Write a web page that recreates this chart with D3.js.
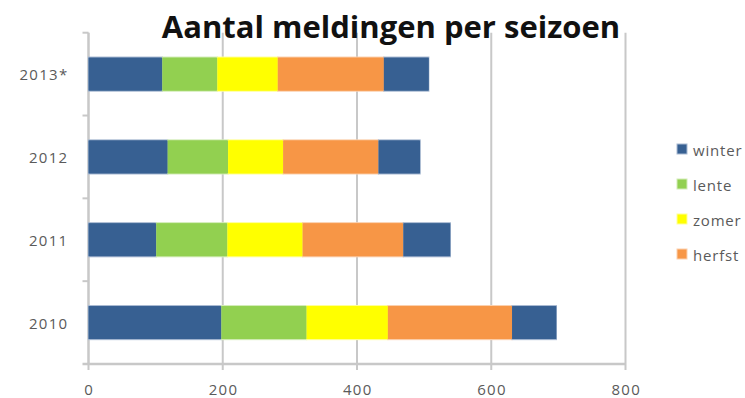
<!DOCTYPE html>
<html>
<head>
<meta charset="utf-8">
<script src="https://cdn.jsdelivr.net/npm/d3@7"></script>
<style>
  html, body { margin: 0; padding: 0; background: #fff; }
  svg { display: block; }
</style>
</head>
<body>
<svg id="chart" width="745" height="398"></svg>
<script>
// Meldingen per seizoen, per jaar (2013 is onvolledig)
const years = ["2013*", "2012", "2011", "2010"];
const winterStart = [110, 118, 101, 198];
const lente = [82, 90, 106, 127];
const zomer = [90, 82, 112, 121];
const herfst = [158, 142, 150, 185];
const winterEnd = [67, 62, 70, 66];
const xTicks = [0, 200, 400, 600, 800];
const legendItems = ["winter", "lente", "zomer", "herfst"];

const seasonColor = {
  winter: "#376092",
  lente: "#92d050",
  zomer: "#ffff00",
  herfst: "#f79646"
};
const seasonEdge = {
  winter: "#a9bad2",
  lente: "#d3ecb8",
  zomer: "#ffff99",
  herfst: "#fbd0ae"
};

// Table for the stack: winter appears at both ends of the year
const rows = years.map((yr, i) => ({
  year: yr,
  winterStart: winterStart[i],
  lente: lente[i],
  zomer: zomer[i],
  herfst: herfst[i],
  winterEnd: winterEnd[i]
}));
const keys = ["winterStart", "lente", "zomer", "herfst", "winterEnd"];
const seasonOf = k => (k === "winterStart" || k === "winterEnd") ? "winter" : k;

const svg = d3.select("#chart");
const plotLeft = 88.5, plotRight = 625.5, plotTop = 32.7, plotBottom = 364;
const labelFont = "Open Sans, Noto Sans, sans-serif";

const x = d3.scaleLinear().domain([0, 800]).range([plotLeft, plotRight]);
const y = d3.scaleBand().domain(years).range([plotTop, plotBottom])
  .paddingInner(0.59).paddingOuter(0.295);

const grid = "#c8c8c8";

// Vertical gridlines
svg.append("g").selectAll("line").data(xTicks).join("line")
  .attr("x1", d => x(d)).attr("x2", d => x(d))
  .attr("y1", plotTop).attr("y2", plotBottom + 6)
  .attr("stroke", grid).attr("stroke-width", 2);

// Category axis with ticks between the bars
svg.append("line")
  .attr("x1", plotLeft).attr("x2", plotLeft).attr("y1", plotTop).attr("y2", plotBottom)
  .attr("stroke", grid).attr("stroke-width", 2);
const boundaries = [plotTop].concat(years.slice(1).map(d => y(d) - y.step() * y.paddingInner() / 2));
svg.append("g").selectAll("line").data(boundaries).join("line")
  .attr("x1", plotLeft - 6).attr("x2", plotLeft)
  .attr("y1", d => d).attr("y2", d => d)
  .attr("stroke", grid).attr("stroke-width", 2);

// Value axis line
svg.append("line")
  .attr("x1", plotLeft - 6).attr("x2", plotRight).attr("y1", plotBottom).attr("y2", plotBottom)
  .attr("stroke", grid).attr("stroke-width", 2.5);

// Stacked bars: soft outer edge first, solid fill on top
const stacked = d3.stack().keys(keys)(rows);
svg.append("g").selectAll("g").data(stacked).join("g")
  .attr("fill", s => seasonColor[seasonOf(s.key)])
  .selectAll("rect").data(s => s.map(d => ({ d, key: s.key }))).join("rect")
  .attr("x", e => x(e.d[0]))
  .attr("y", e => y(e.d.data.year))
  .attr("width", e => x(e.d[1]) - x(e.d[0]))
  .attr("height", y.bandwidth())
  .attr("stroke", e => seasonEdge[seasonOf(e.key)])
  .attr("stroke-width", 1.2);

svg.append("g").selectAll("g").data(stacked).join("g")
  .attr("fill", s => seasonColor[seasonOf(s.key)])
  .selectAll("rect").data(s => s).join("rect")
  .attr("x", d => x(d[0]))
  .attr("y", d => y(d.data.year) + 0.5)
  .attr("width", d => x(d[1]) - x(d[0]))
  .attr("height", y.bandwidth() - 1);

// Category labels
svg.append("g").selectAll("text").data(years).join("text")
  .attr("x", 68.5).attr("y", d => y(d) + y.bandwidth() / 2)
  .attr("text-anchor", "end").attr("dominant-baseline", "central")
  .attr("font-family", labelFont)
  .attr("font-size", 15).attr("letter-spacing", 1.3).attr("fill", "#5a5a5a")
  .text(d => d);

// Value tick labels
svg.append("g").selectAll("text").data(xTicks).join("text")
  .attr("x", d => x(d) + 0.7).attr("y", 389)
  .attr("text-anchor", "middle").attr("dominant-baseline", "central")
  .attr("font-family", labelFont)
  .attr("font-size", 15).attr("letter-spacing", 1.3).attr("fill", "#5a5a5a")
  .text(d => d);

// Title
svg.append("text")
  .attr("x", 391).attr("y", 37.5)
  .attr("text-anchor", "middle")
  .attr("font-family", labelFont)
  .attr("font-weight", "bold").attr("font-size", 31)
  .attr("fill", "#111")
  .text("Aantal meldingen per seizoen");

// Legend
const legend = svg.append("g").selectAll("g").data(legendItems).join("g")
  .attr("transform", (d, i) => `translate(677, ${149 + i * 35})`);
legend.append("rect")
  .attr("x", 0).attr("y", -5).attr("width", 10).attr("height", 10)
  .attr("fill", d => seasonColor[d])
  .attr("stroke", d => seasonEdge[d]).attr("stroke-width", 1);
legend.append("text")
  .attr("x", 16).attr("y", 0.5).attr("dominant-baseline", "central")
  .attr("font-family", labelFont)
  .attr("font-size", 15).attr("letter-spacing", 0.8).attr("fill", "#5a5a5a")
  .text(d => d);
</script>
</body>
</html>
